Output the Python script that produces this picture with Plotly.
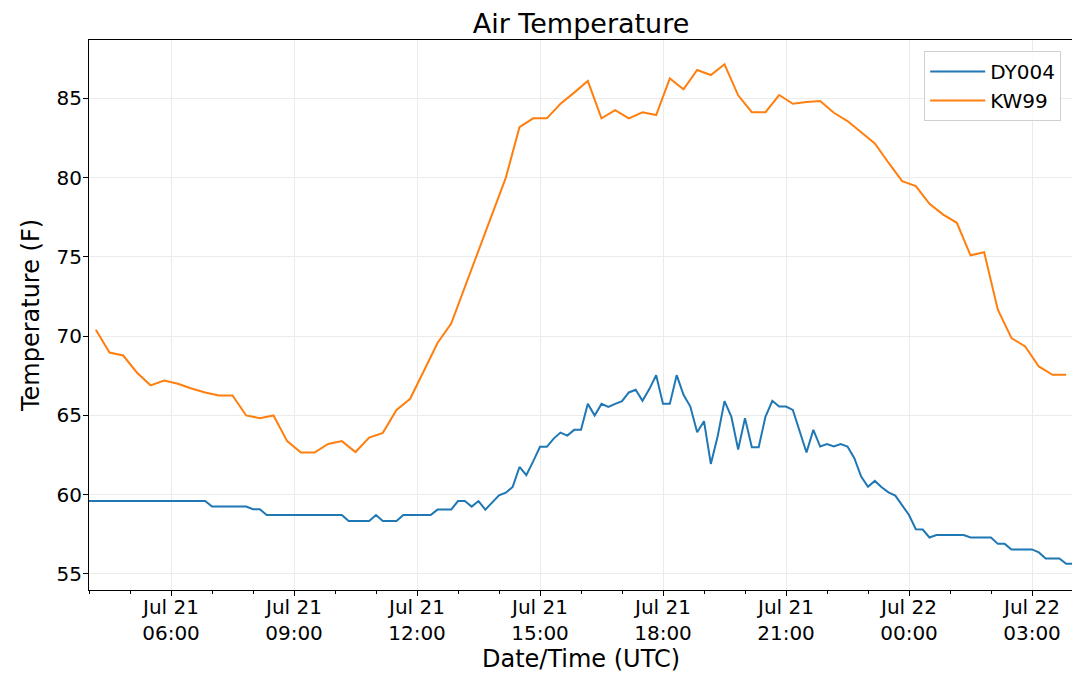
import pandas as pd
import plotly.graph_objects as go

# station observations, Jul 21-22 (UTC)
dy004_start = "2021-07-21 04:00"
dy004_step = "10min"
dy004_temp = [
    59.6, 59.6, 59.6, 59.6, 59.6, 59.6, 59.6, 59.6, 59.6, 59.6, 59.6, 59.6,
    59.6, 59.6, 59.6, 59.6, 59.6, 59.6,
    59.25, 59.25, 59.25, 59.25, 59.25, 59.25,
    59.08, 59.08,
    58.72, 58.72, 58.72, 58.72, 58.72, 58.72, 58.72, 58.72, 58.72, 58.72, 58.72, 58.72,
    58.34, 58.34, 58.34, 58.34,
    58.72,
    58.34, 58.34, 58.34,
    58.72, 58.72, 58.72, 58.72, 58.72,
    59.06, 59.06, 59.06,
    59.6, 59.6, 59.25, 59.6, 59.06, 59.5,
    59.96, 60.13, 60.49, 61.75, 61.23, 62.1,
    63.02, 63.02, 63.54, 63.92, 63.73, 64.09,
    64.09, 65.73, 65.0, 65.73, 65.54, 65.73,
    65.9, 66.45, 66.62, 65.92, 66.66, 67.54,
    65.73, 65.73, 67.54, 66.3, 65.56, 63.94,
    64.64, 61.94, 63.69, 65.9, 64.93, 62.85,
    64.83, 63.0, 63.0, 64.93, 65.92, 65.56,
    65.56, 65.35, 63.98, 62.66, 64.09, 63.04,
    63.2, 63.04, 63.2, 63.04, 62.3, 61.14,
    60.5, 60.87, 60.47, 60.15, 59.94, 59.29,
    58.72, 57.82, 57.8, 57.3,
    57.46, 57.46, 57.46, 57.46, 57.46,
    57.3, 57.3, 57.3, 57.3,
    56.9, 56.9,
    56.55, 56.55, 56.55, 56.55,
    56.36,
    55.98, 55.98, 55.98,
    55.64, 55.64,
]

kw99_start = "2021-07-21 04:10"
kw99_step = "20min"
kw99_temp = [
    70.41, 68.97, 68.78,
    67.71, 66.9, 67.2,
    67.0, 66.7, 66.45,
    66.26, 66.26, 65.0,
    64.83, 65.0, 63.38,
    62.66, 62.66, 63.2,
    63.38, 62.69, 63.6,
    63.9, 65.35, 66.05,
    67.8, 69.57, 70.79,
    73.1, 75.5, 77.7,
    80.0, 83.18, 83.74,
    83.74, 84.66, 85.36,
    86.09, 83.74, 84.26,
    83.74, 84.12, 83.95,
    86.26, 85.57, 86.79,
    86.47, 87.15, 85.19,
    84.13, 84.13, 85.21,
    84.66, 84.77, 84.83,
    84.09, 83.57, 82.87,
    82.16, 80.94, 79.78,
    79.46, 78.35, 77.67,
    77.15, 75.1, 75.29,
    71.67, 69.88, 69.35,
    68.09, 67.56, 67.56,
]

dy004_time = pd.date_range(dy004_start, periods=len(dy004_temp), freq=dy004_step)
kw99_time = pd.date_range(kw99_start, periods=len(kw99_temp), freq=kw99_step)

font = "DejaVu Sans"

fig = go.Figure()
fig.add_trace(go.Scatter(x=dy004_time, y=dy004_temp, mode="lines", name="DY004",
                         line=dict(color="#1f77b4", width=2)))
fig.add_trace(go.Scatter(x=kw99_time, y=kw99_temp, mode="lines", name="KW99",
                         line=dict(color="#ff7f0e", width=2)))

# page body adds an 8px offset, so the figure is a bit smaller than the window
fig.update_layout(
    width=1072, height=677,
    margin=dict(l=81, r=7, t=32, b=95),
    paper_bgcolor="white", plot_bgcolor="white",
    font=dict(family=font, size=20, color="black"),
    title=dict(text="Air Temperature", x=0.5, xanchor="center", xref="paper",
               y=1 - 16 / 677, yanchor="middle", yref="container",
               font=dict(size=27, color="black")),
    legend=dict(x=0.988, y=0.98, xanchor="right", yanchor="top",
                bgcolor="rgba(255,255,255,0.8)", bordercolor="#d0d0d0",
                borderwidth=1, itemwidth=55, font=dict(size=20, color="black")),
    showlegend=True,
)

fig.update_xaxes(
    range=["2021-07-21 04:00", "2021-07-22 04:00"],
    tickformat="%b %d<br>%H:%M", dtick=3 * 3600000,
    tick0="2021-07-21 00:00",
    ticks="outside", ticklen=5, tickcolor="black",
    ticklabelstandoff=-6,
    showline=True, linecolor="black", linewidth=1, mirror=True,
    showgrid=True, gridcolor="#ebebeb", gridwidth=1,
    minor=dict(dtick=3600000, ticks="outside", ticklen=3, tickcolor="black",
               showgrid=False),
    title=dict(text="Date/Time (UTC)", font=dict(size=24, color="black"), standoff=4),
    zeroline=False,
)
fig.update_yaxes(
    range=[53.99, 88.68], dtick=5, tick0=55,
    ticks="outside", ticklen=5, tickcolor="black",
    ticklabelstandoff=-3,
    showline=True, linecolor="black", linewidth=1, mirror=True,
    showgrid=True, gridcolor="#ebebeb", gridwidth=1,
    title=dict(text="Temperature (F)", font=dict(size=24, color="black"), standoff=10),
    zeroline=False,
)

fig.write_html("out.html")
